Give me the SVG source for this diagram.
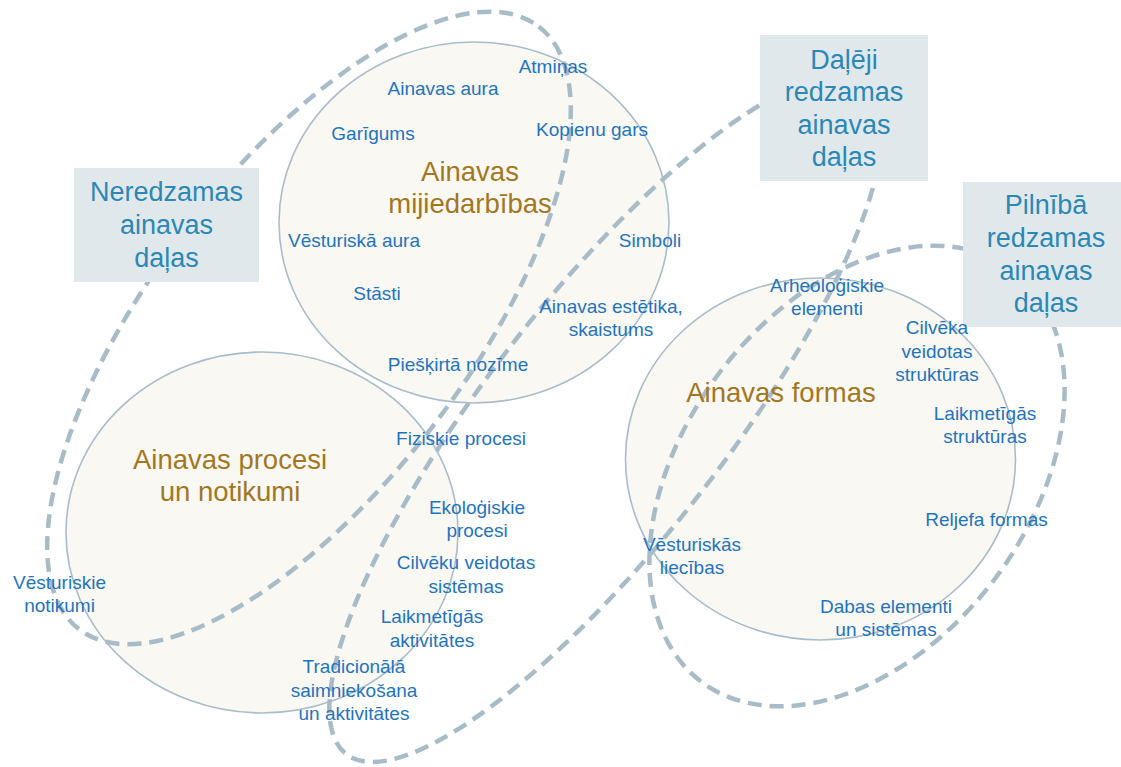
<svg xmlns="http://www.w3.org/2000/svg" width="1121" height="767" viewBox="0 0 1121 767">
  <style>
    .circ { fill: #f9f8f3; stroke: #a9bccb; stroke-width: 1.6; }
    .dash { fill: none; stroke: #a8bcc8; stroke-width: 4.5; stroke-dasharray: 14 8; }
    .box { fill: #e0e8ec; }
    .boxt { font-family: "Liberation Sans", Arial, sans-serif; font-size: 27px; fill: #2b88b6; text-anchor: middle; }
    .title { font-family: "Liberation Sans", Arial, sans-serif; font-size: 27.5px; fill: #a3771f; text-anchor: middle; }
    .lbl { font-family: "Liberation Sans", Arial, sans-serif; font-size: 19px; fill: #1f74bf; text-anchor: middle; }
  </style>
  <rect width="1121" height="767" fill="#ffffff"/>

  <g id="node-mijiedarbibas-shape"><ellipse class="circ" cx="474" cy="222.5" rx="195" ry="180.5"/></g>
  <g id="node-procesi-shape"><ellipse class="circ" cx="262" cy="532.5" rx="196" ry="180.5"/></g>
  <g id="node-formas-shape"><ellipse class="circ" cx="820.5" cy="459" rx="195" ry="181"/></g>

  <g id="connectors">
    <ellipse class="dash" cx="309" cy="328" rx="379" ry="158" transform="rotate(-52.7 309 328)"/>
    <ellipse class="dash" cx="606" cy="419" rx="424" ry="120" transform="rotate(-52.2 606 419)"/>
    <ellipse class="dash" cx="857" cy="476" rx="258" ry="172" transform="rotate(-52.8 857 476)"/>
  </g>

  <g id="node-neredzamas">
    <rect class="box" x="74" y="168" width="185" height="114"/>
    <text class="boxt" x="166.5" y="201">Neredzamas</text>
    <text class="boxt" x="166.5" y="234">ainavas</text>
    <text class="boxt" x="166.5" y="267">daļas</text>
  </g>
  <g id="node-daleji">
    <rect class="box" x="760" y="35" width="168" height="146"/>
    <text class="boxt" x="844" y="69">Daļēji</text>
    <text class="boxt" x="844" y="101">redzamas</text>
    <text class="boxt" x="844" y="134">ainavas</text>
    <text class="boxt" x="844" y="166">daļas</text>
  </g>
  <g id="node-pilniba">
    <rect class="box" x="963" y="182" width="158" height="145"/>
    <text class="boxt" x="1046" y="214">Pilnībā</text>
    <text class="boxt" x="1046" y="247">redzamas</text>
    <text class="boxt" x="1046" y="280">ainavas</text>
    <text class="boxt" x="1046" y="312">daļas</text>
  </g>

  <g id="node-mijiedarbibas">
    <text class="title" x="470" y="181">Ainavas</text>
    <text class="title" x="470" y="213">mijiedarbības</text>
    <text class="lbl" x="553" y="73">Atmiņas</text>
    <text class="lbl" x="443" y="95">Ainavas aura</text>
    <text class="lbl" x="373" y="140">Garīgums</text>
    <text class="lbl" x="592" y="136">Kopienu gars</text>
    <text class="lbl" x="354" y="247">Vēsturiskā aura</text>
    <text class="lbl" x="650" y="247">Simboli</text>
    <text class="lbl" x="377" y="300">Stāsti</text>
    <text class="lbl" x="611" y="313">Ainavas estētika,</text>
    <text class="lbl" x="611" y="336">skaistums</text>
    <text class="lbl" x="458" y="371">Piešķirtā nozīme</text>
  </g>

  <g id="node-procesi">
    <text class="title" x="230" y="469">Ainavas procesi</text>
    <text class="title" x="230" y="501">un notikumi</text>
    <text class="lbl" x="461" y="445">Fiziskie procesi</text>
    <text class="lbl" x="477" y="514">Ekoloģiskie</text>
    <text class="lbl" x="477" y="537">procesi</text>
    <text class="lbl" x="466" y="569">Cilvēku veidotas</text>
    <text class="lbl" x="466" y="593">sistēmas</text>
    <text class="lbl" x="432" y="623">Laikmetīgās</text>
    <text class="lbl" x="432" y="647">aktivitātes</text>
    <text class="lbl" x="354" y="673">Tradicionālā</text>
    <text class="lbl" x="354" y="697">saimniekošana</text>
    <text class="lbl" x="354" y="720">un aktivitātes</text>
    <text class="lbl" x="59.5" y="589">Vēsturiskie</text>
    <text class="lbl" x="59.5" y="612">notikumi</text>
  </g>

  <g id="node-formas">
    <text class="title" x="781" y="402">Ainavas formas</text>
    <text class="lbl" x="827" y="292">Arheoloģiskie</text>
    <text class="lbl" x="827" y="315">elementi</text>
    <text class="lbl" x="937" y="334">Cilvēka</text>
    <text class="lbl" x="937" y="358">veidotas</text>
    <text class="lbl" x="937" y="381">struktūras</text>
    <text class="lbl" x="985" y="420">Laikmetīgās</text>
    <text class="lbl" x="985" y="443">struktūras</text>
    <text class="lbl" x="986.5" y="526">Reljefa formas</text>
    <text class="lbl" x="692" y="551">Vēsturiskās</text>
    <text class="lbl" x="692" y="574">liecības</text>
    <text class="lbl" x="886" y="613">Dabas elementi</text>
    <text class="lbl" x="886" y="636">un sistēmas</text>
  </g>
</svg>
